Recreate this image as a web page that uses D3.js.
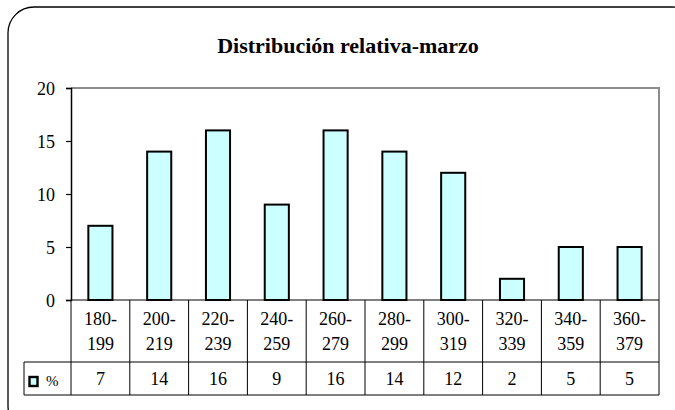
<!DOCTYPE html>
<html>
<head>
<meta charset="utf-8">
<script src="https://cdn.jsdelivr.net/npm/d3@7"></script>
<style>
  html, body { margin: 0; padding: 0; background: #fff; }
  svg { display: block; font-family: "Liberation Serif", "DejaVu Serif", serif; }
</style>
</head>
<body>
<svg id="chart" width="675" height="410"></svg>
<script>
// Distribución relativa del mes de marzo por intervalo
const categories = ["180-199", "200-219", "220-239", "240-259", "260-279",
                    "280-299", "300-319", "320-339", "340-359", "360-379"];
const values = [7, 14, 16, 9, 16, 14, 12, 2, 5, 5];
const yTicks = [0, 5, 10, 15, 20];
const seriesName = "%";
const title = "Distribución relativa-marzo";

const FONT = "Liberation Serif, DejaVu Serif, serif";
const svg = d3.select("#chart");

// Frame with rounded corners, running past the right and bottom edges
svg.append("rect")
  .attr("x", 8).attr("y", 7)
  .attr("width", 690).attr("height", 425)
  .attr("rx", 26).attr("ry", 26)
  .attr("fill", "#fff")
  .attr("stroke", "#000")
  .attr("stroke-width", 1.3);

svg.append("text")
  .attr("x", 348).attr("y", 53)
  .attr("text-anchor", "middle")
  .attr("font-weight", "bold")
  .attr("font-size", 22)
  .text(title);

const plotL = 71, plotR = 659, plotT = 88, plotB = 300;

const x = d3.scaleBand().domain(categories).range([plotL, plotR]).paddingInner(0).paddingOuter(0);
const y = d3.scaleLinear().domain([0, 20]).range([plotB, plotT]);

// Plot area border (top and right in gray)
svg.append("path")
  .attr("d", `M${plotL},${plotT}H${plotR}V${plotB}`)
  .attr("fill", "none")
  .attr("stroke", "#8c8c8c")
  .attr("stroke-width", 2);

// Bars
const barW = x.bandwidth() * 0.41;
svg.append("g").selectAll("rect")
  .data(values)
  .join("rect")
  .attr("x", (d, i) => x(categories[i]) + (x.bandwidth() - barW) / 2)
  .attr("y", d => y(d))
  .attr("width", barW)
  .attr("height", d => plotB - y(d))
  .attr("fill", "#ccffff")
  .attr("stroke", "#000")
  .attr("stroke-width", 2);

// Y axis
const yAxis = svg.append("g")
  .attr("transform", `translate(${plotL},0)`)
  .call(d3.axisLeft(y).tickValues(yTicks).tickSize(5).tickPadding(11));
yAxis.select(".domain").attr("stroke", "#000").attr("stroke-width", 1.5);
yAxis.selectAll(".tick line").attr("stroke", "#000").attr("stroke-width", 1.2);
yAxis.selectAll(".tick text")
  .attr("font-family", FONT)
  .attr("font-size", 18)
  .attr("dy", "0.34em")
  .attr("fill", "#000");

// Data table below the plot
const rowMid = 362, rowEnd = 395, legendLeft = 24;
const table = svg.append("g").attr("stroke", "#000").attr("stroke-width", 1);
table.append("line").attr("x1", plotL).attr("x2", plotR).attr("y1", plotB).attr("y2", plotB);
table.append("line").attr("x1", legendLeft).attr("x2", plotR).attr("y1", rowMid).attr("y2", rowMid);
table.append("line").attr("x1", legendLeft).attr("x2", plotR).attr("y1", rowEnd).attr("y2", rowEnd);
table.append("line").attr("x1", legendLeft).attr("x2", legendLeft).attr("y1", rowMid).attr("y2", rowEnd);
const edges = categories.map(c => x(c)).concat([plotR]);
table.selectAll("line.v")
  .data(edges)
  .join("line")
  .attr("class", "v")
  .attr("x1", d => d).attr("x2", d => d)
  .attr("y1", plotB).attr("y2", rowEnd);

// Category labels split onto two lines
const catG = svg.append("g").attr("font-size", 18).attr("text-anchor", "middle");
categories.forEach(c => {
  const [a, b] = c.split("-");
  const cx = x(c) + x.bandwidth() / 2;
  catG.append("text").attr("x", cx).attr("y", 325).text(a + "-");
  catG.append("text").attr("x", cx).attr("y", 350).text(b);
});

// Value row
svg.append("g").attr("font-size", 18).attr("text-anchor", "middle")
  .selectAll("text")
  .data(values)
  .join("text")
  .attr("x", (d, i) => x(categories[i]) + x.bandwidth() / 2)
  .attr("y", 385)
  .text(d => d);

// Legend key
svg.append("rect")
  .attr("x", 29.5).attr("y", 377)
  .attr("width", 8).attr("height", 9)
  .attr("fill", "#ccffff")
  .attr("stroke", "#000")
  .attr("stroke-width", 2.4);
svg.append("text")
  .attr("x", 46).attr("y", 386)
  .attr("font-size", 15)
  .text(seriesName);
</script>
</body>
</html>
